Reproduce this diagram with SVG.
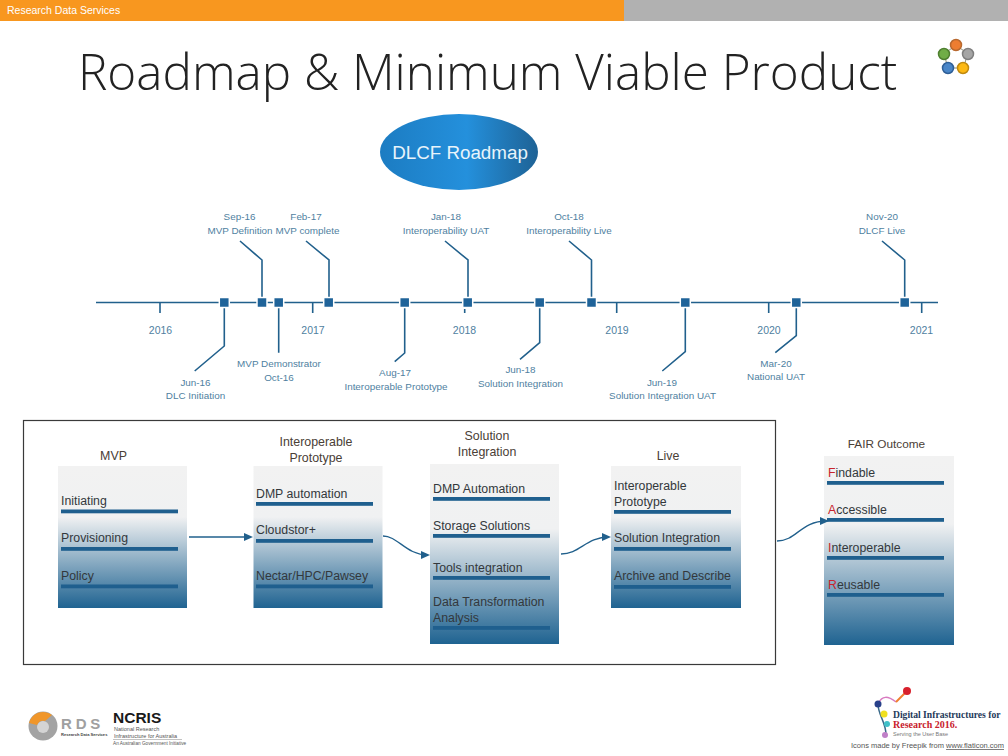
<svg xmlns="http://www.w3.org/2000/svg" width="1008" height="756" viewBox="0 0 1008 756">
<style>
text{font-family:"Liberation Sans",Arial,sans-serif}
.tl{font-size:9.9px;fill:#4f7f9f;text-anchor:middle}
.yr{font-size:10.5px;fill:#4f7f9f;text-anchor:middle}
.lead{fill:none;stroke:#21608c;stroke-width:1.6}
.tick{fill:none;stroke:#21608c;stroke-width:1.6}
.sq{fill:#1f6399;stroke:#fff;stroke-width:1.5}
.box{fill:url(#fade)}
.bar{fill:#1f5f8e}
.t{font-size:12.3px;fill:#33383c}
.h{font-size:12.4px;fill:#4a4036;text-anchor:middle}
.r{fill:#c8242c}
.flow{fill:none;stroke:#21608c;stroke-width:1.3;marker-end:url(#ah)}
</style>
<defs>
<linearGradient id="fade" x1="0" y1="0" x2="0" y2="1"><stop offset="0" stop-color="#f2f2f2"/><stop offset=".36" stop-color="#f0f1f2"/><stop offset="1" stop-color="#1f6391"/></linearGradient>
<linearGradient id="oval" x1="0" y1="0" x2="1" y2="0"><stop offset="0" stop-color="#1c7cc2"/><stop offset=".55" stop-color="#2490dc"/><stop offset="1" stop-color="#1e6295"/></linearGradient>
<marker id="ah" markerWidth="9" markerHeight="8" refX="7" refY="4" orient="auto" markerUnits="userSpaceOnUse"><path d="M0 0L9 4L0 8Z" fill="#21608c"/></marker>
</defs>
<rect width="1008" height="756" fill="#fff"/>
<g id="header">
<rect width="624" height="21" fill="#f8971f"/><rect x="624" width="384" height="21" fill="#b1b1b1"/>
<text x="7" y="14" font-size="10.500" fill="#fff">Research Data Services</text>
<text x="78" y="90" font-size="49.400" font-weight="300" fill="#222" style="font-family:'Open Sans',sans-serif">Roadmap &amp; Minimum Viable Product</text>
</g>
<g id="corner-logo" stroke-width="1.500">
<path d="M956 45L968 54L963 68L948 68L944 54Z" fill="none" stroke="#8a8a70" stroke-width="1"/>
<circle cx="956" cy="45" r="5.500" fill="#ed7d31" stroke="#b8692f"/><circle cx="968" cy="54" r="5.500" fill="#a5a5a5" stroke="#7f7f7f"/><circle cx="963" cy="68" r="5.500" fill="#fdb913" stroke="#c08a10"/><circle cx="948" cy="68" r="5.500" fill="#4a86c8" stroke="#2f5f97"/><circle cx="944" cy="54" r="5.500" fill="#70ad47" stroke="#4f7f30"/>
</g>
<g id="dlcf-roadmap"><ellipse cx="459" cy="152" rx="79" ry="38" fill="url(#oval)"/><text x="460" y="158.500" font-size="18.800" fill="#e8f4fb" text-anchor="middle">DLCF Roadmap</text></g>
<g id="connectors-timeline">
<path class="tick" d="M96 302.500H938M160 302.500V313M312.700 302.500V313M464.700 309V313M616.700 302.500V313M768.700 302.500V313M921.700 302.500V313"/>
<path class="lead" d="M240 241L262 260V298M306 241L329 260V298M445 241L468 260V298M569 241L591.500 260V298M882 241L904.700 260V298M224.300 308V346L194.700 371M278.700 308V352.700M404.700 308V353L394.700 361.700M539.700 308V342.700L520 359.300M685.300 308V351.700L662.300 371M796.300 308V335.700L775.300 352.700"/>
</g>
<g id="timeline-markers">
<rect class="sq" x="219.300" y="297.500" width="10" height="10"/><rect class="sq" x="257" y="297.500" width="10" height="10"/><rect class="sq" x="273.700" y="297.500" width="10" height="10"/><rect class="sq" x="323.700" y="297.500" width="10" height="10"/><rect class="sq" x="399.700" y="297.500" width="10" height="10"/><rect class="sq" x="462.700" y="297.500" width="10" height="10"/><rect class="sq" x="534.700" y="297.500" width="10" height="10"/><rect class="sq" x="586.500" y="297.500" width="10" height="10"/><rect class="sq" x="680.300" y="297.500" width="10" height="10"/><rect class="sq" x="791.300" y="297.500" width="10" height="10"/><rect class="sq" x="899.700" y="297.500" width="10" height="10"/>
</g>
<g id="timeline-labels">
<text class="tl" x="239.500" y="220">Sep-16</text><text class="tl" x="240" y="234">MVP Definition</text>
<text class="tl" x="306" y="220">Feb-17</text><text class="tl" x="307.500" y="234">MVP complete</text>
<text class="tl" x="446" y="220">Jan-18</text><text class="tl" x="446" y="234">Interoperability UAT</text>
<text class="tl" x="569" y="220">Oct-18</text><text class="tl" x="569" y="234">Interoperability Live</text>
<text class="tl" x="882" y="220">Nov-20</text><text class="tl" x="882" y="234">DLCF Live</text>
<text class="yr" x="160.500" y="334">2016</text><text class="yr" x="313" y="334">2017</text><text class="yr" x="464.500" y="334">2018</text><text class="yr" x="617" y="334">2019</text><text class="yr" x="769" y="334">2020</text><text class="yr" x="921.500" y="334">2021</text>
<text class="tl" x="195.500" y="386">Jun-16</text><text class="tl" x="195.500" y="399">DLC Initiation</text>
<text class="tl" x="279" y="367">MVP Demonstrator</text><text class="tl" x="279" y="381">Oct-16</text>
<text class="tl" x="395" y="376">Aug-17</text><text class="tl" x="396" y="390">Interoperable Prototype</text>
<text class="tl" x="520.500" y="373">Jun-18</text><text class="tl" x="520.500" y="387">Solution Integration</text>
<text class="tl" x="662" y="386">Jun-19</text><text class="tl" x="662.500" y="399">Solution Integration UAT</text>
<text class="tl" x="776" y="367">Mar-20</text><text class="tl" x="776" y="380">National UAT</text>
</g>
<rect id="panel" x="23.500" y="420.500" width="752" height="244" fill="none" stroke="#3a3a3a" stroke-width="1.200"/>
<g id="mvp"><text class="h" x="113.500" y="460">MVP</text><rect class="box" x="58" y="466" width="129" height="142"/>
<text class="t" x="61" y="505">Initiating</text><rect class="bar" x="61" y="509.500" width="117" height="3.800"/>
<text class="t" x="61" y="542">Provisioning</text><rect class="bar" x="61" y="547" width="117" height="3.800"/>
<text class="t" x="61" y="580">Policy</text><rect class="bar" x="61" y="584.500" width="117" height="3.800"/></g>
<g id="interoperable-prototype"><text class="h" x="316" y="446">Interoperable</text><text class="h" x="316" y="462">Prototype</text><rect class="box" x="253.500" y="466" width="129" height="142"/>
<text class="t" x="256" y="498">DMP automation</text><rect class="bar" x="256" y="502" width="117" height="3.800"/>
<text class="t" x="256" y="534">Cloudstor+</text><rect class="bar" x="256" y="539" width="117" height="3.800"/>
<text class="t" x="256" y="580">Nectar/HPC/Pawsey</text><rect class="bar" x="256" y="584.500" width="117" height="3.800"/></g>
<g id="solution-integration"><text class="h" x="487" y="440">Solution</text><text class="h" x="487" y="456">Integration</text><rect class="box" x="430" y="464" width="129" height="180"/>
<text class="t" x="433" y="493">DMP Automation</text><rect class="bar" x="433" y="497" width="117" height="3.800"/>
<text class="t" x="433" y="530">Storage Solutions</text><rect class="bar" x="433" y="534" width="117" height="3.800"/>
<text class="t" x="433" y="572">Tools integration</text><rect class="bar" x="433" y="576" width="117" height="3.800"/>
<text class="t" x="433" y="606">Data Transformation</text><text class="t" x="433" y="622">Analysis</text><rect class="bar" x="433" y="626" width="117" height="3.800"/></g>
<g id="live"><text class="h" x="668" y="460">Live</text><rect class="box" x="611" y="466" width="130" height="142"/>
<text class="t" x="614" y="490">Interoperable</text><text class="t" x="614" y="506">Prototype</text><rect class="bar" x="614" y="510" width="117" height="3.800"/>
<text class="t" x="614" y="542">Solution Integration</text><rect class="bar" x="614" y="547" width="117" height="3.800"/>
<text class="t" x="614" y="580">Archive and Describe</text><rect class="bar" x="614" y="585" width="117" height="3.800"/></g>
<g id="fair-outcome"><text class="h" x="886.500" y="448" style="font-size:11.800px">FAIR Outcome</text><rect class="box" x="824" y="456" width="130" height="189"/>
<text class="t" x="828" y="477"><tspan class="r">F</tspan>indable</text><rect class="bar" x="827" y="481" width="117" height="3.800"/>
<text class="t" x="828" y="514"><tspan class="r">A</tspan>ccessible</text><rect class="bar" x="827" y="518" width="117" height="3.800"/>
<text class="t" x="828" y="552"><tspan class="r">I</tspan>nteroperable</text><rect class="bar" x="827" y="556" width="117" height="3.800"/>
<text class="t" x="828" y="589"><tspan class="r">R</tspan>eusable</text><rect class="bar" x="827" y="593" width="117" height="3.800"/></g>
<g id="connectors-flow">
<path class="flow" d="M189 537H251"/>
<path class="flow" d="M383 536C398 536 406 555 428 555"/>
<path class="flow" d="M561 554C580 554 586 537 609 537"/>
<path class="flow" d="M777 541C797 541 800 521 827 521"/>
</g>
<g id="rds-logo">
<circle cx="43" cy="726" r="14.500" fill="#a3a3a3"/>
<circle cx="43" cy="727" r="6" fill="#d4d4d4"/>
<path d="M29 723A14.500 14.500 0 0 1 52 715L45 721A7 7 0 0 0 37 725Z" fill="#f0962a"/>
<text x="61" y="728.500" font-size="15" font-weight="700" fill="#a0a0a0" letter-spacing="3.800">RDS</text>
<text x="61" y="735.500" font-size="4.100" font-weight="700" fill="#444">Research Data Services</text>
</g>
<g id="ncris-logo">
<text x="113" y="723" font-size="15.500" font-weight="700" fill="#1a1a1a">NCRIS</text>
<text x="114" y="731" font-size="5.500" fill="#555">National Research</text>
<text x="114" y="737.500" font-size="5.500" fill="#555">Infrastructure for Australia</text>
<path d="M113 739.500H182" stroke="#999" stroke-width=".6"/>
<text x="113" y="744.500" font-size="4.700" fill="#555">An Australian Government Initiative</text>
</g>
<g id="dif-logo">
<path d="M896 702C888 696 882 695 878 704" fill="none" stroke="#d87ac0" stroke-width="1.500"/>
<path d="M878 704C878 715 886 722 886 735" fill="none" stroke="#3a6a8a" stroke-width="1.500"/>
<path d="M907 691L896 702" stroke="#f08030" stroke-width="2"/>
<circle cx="907" cy="691" r="4" fill="#d8202c"/><circle cx="878" cy="704" r="3.500" fill="#28408a"/><circle cx="884" cy="714" r="3.500" fill="#f0e020"/><circle cx="887" cy="724" r="3" fill="#40c0c8"/><circle cx="885" cy="735" r="3" fill="#c080c8"/>
<text x="893" y="718" font-size="9.600" font-weight="700" fill="#243a5a" style="font-family:'Liberation Serif',serif">Digital Infrastructures for</text>
<text x="893" y="728" font-size="10" font-weight="700" fill="#c8202c" style="font-family:'Liberation Serif',serif">Research 2016.</text>
<text x="893" y="736" font-size="5.500" fill="#777">Serving the User Base</text>
</g>
<text id="credit" x="851" y="748" font-size="7.500" fill="#555">Icons made by Freepik from <tspan text-decoration="underline">www.flaticon.com</tspan></text>
</svg>
